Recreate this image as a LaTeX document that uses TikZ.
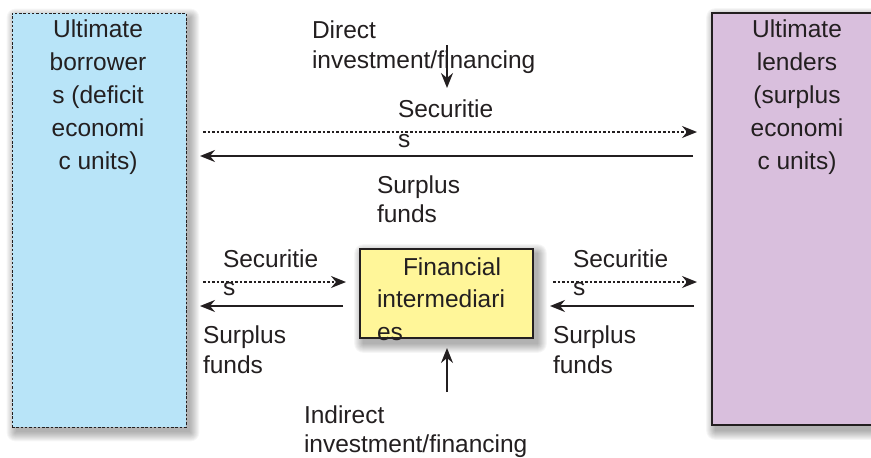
\documentclass[tikz,border=0pt]{standalone}
\usepackage{fontspec}
\setmainfont{Liberation Sans}
\usetikzlibrary{arrows.meta,backgrounds}
\definecolor{txt}{HTML}{231F20}
\definecolor{blueF}{HTML}{B8E4F8}
\definecolor{purpF}{HTML}{D9BFDD}
\definecolor{yelF}{HTML}{FFF699}
\newcommand\clines[2]{\vtop{\baselineskip=#1\relax\halign{\hfil##\hfil\cr#2\crcr}}}
\newcommand\llines[2]{\vtop{\baselineskip=#1\relax\halign{##\hfil\cr#2\crcr}}}
\newcommand\softshadow[1]{%
  \foreach \s in {0,1,...,9}{%
    \fill[black, opacity=0.034, rounded corners=\s pt]
      ([shift={(4-\s,5-\s)}]#1.north west) rectangle ([shift={(4+\s,5+\s)}]#1.south east);}}
\tikzset{
  lbl/.style={inner sep=0pt, outer sep=0pt, text=txt, font=\fontsize{24.5}{30}\selectfont},
  flow/.style={line width=1.8pt, draw=txt, -{Stealth[length=15pt,width=12pt,inset=5pt]}},
  secflow/.style={flow, line width=1.7pt, dash pattern=on 2.6pt off 2pt},
}
\begin{document}
\begin{tikzpicture}[x=1pt,y=-1pt]
\useasboundingbox (0,0) rectangle (871,458);
\clip (0,0) rectangle (871,458);
% boxes
\node[draw=txt, dash pattern=on 2.5pt off 1.8pt, line width=0.8pt, fill=blueF, minimum width=174pt, minimum height=414pt, inner sep=0pt] (borrow) at (99,220) {};
\node[draw=txt, line width=1.6pt, fill=purpF, minimum width=190pt, minimum height=412pt, inner sep=0pt] (lend) at (807,219) {};
\node[draw=txt, line width=1.6pt, fill=yelF, minimum width=173pt, minimum height=89pt, inner sep=0pt] (fin) at (446.5,293.5) {};
\begin{scope}[on background layer]
  \softshadow{borrow}
  \softshadow{lend}
  \softshadow{fin}
\end{scope}
% box texts
\node[lbl, anchor=base] (borrowtxt) at (98,37) {\clines{33pt}{Ultimate\cr borrower\cr s (deficit\cr economi\cr c units)}};
\node[lbl, anchor=base] (lendtxt) at (797,37) {\clines{33pt}{Ultimate\cr lenders\cr (surplus\cr economi\cr c units)}};
\node[lbl, anchor=base west] (fintxt) at (377,275) {\llines{32.5pt}{\hspace{26pt}Financial\cr intermediari\cr es}};
% top labels
\node[lbl, anchor=base west] (direct) at (312,38) {\llines{30pt}{Direct\cr investment/financing}};
\node[lbl, anchor=base west] (sectop) at (398,117) {\llines{30pt}{Securitie\cr s}};
\node[lbl, anchor=base west] (funtop) at (377,193) {\llines{29pt}{Surplus\cr funds}};
% middle labels
\node[lbl, anchor=base west] (secl) at (223,267) {\llines{28pt}{Securitie\cr s}};
\node[lbl, anchor=base west] (funl) at (203,343) {\llines{30pt}{Surplus\cr funds}};
\node[lbl, anchor=base west] (secr) at (573,267) {\llines{28pt}{Securitie\cr s}};
\node[lbl, anchor=base west] (funr) at (553,343) {\llines{30pt}{Surplus\cr funds}};
% bottom label
\node[lbl, anchor=base west] (indirect) at (304,423) {\llines{29pt}{Indirect\cr investment/financing}};
% connector endpoints
\coordinate (ta) at (203,132); \coordinate (tb) at (697,132);
\coordinate (tc) at (693,156); \coordinate (td) at (200,156);
\coordinate (la) at (203,282); \coordinate (lb) at (346,282);
\coordinate (lc) at (343,306); \coordinate (ld) at (200,306);
\coordinate (ra) at (553,282); \coordinate (rb) at (697,282);
\coordinate (rc) at (694,306); \coordinate (rd) at (550,306);
\coordinate (da) at (447,45);  \coordinate (db) at (447,88);
\coordinate (ua) at (447,392); \coordinate (ub) at (447,348);
% arrows
\draw[secflow] (ta) -- (tb);
\draw[flow] (tc) -- (td);
\draw[secflow] (la) -- (lb);
\draw[flow] (lc) -- (ld);
\draw[secflow] (ra) -- (rb);
\draw[flow] (rc) -- (rd);
\draw[flow] (da) -- (db);
\draw[flow] (ua) -- (ub);
\end{tikzpicture}
\end{document}
